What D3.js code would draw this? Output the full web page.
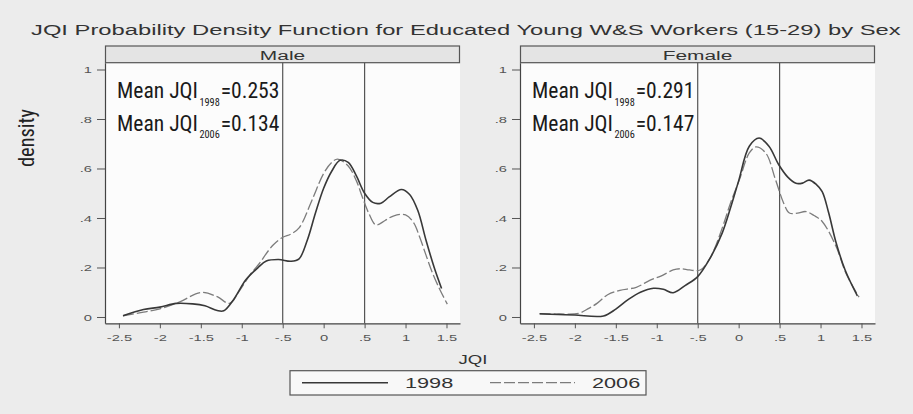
<!DOCTYPE html>
<html>
<head>
<meta charset="utf-8">
<script src="https://cdn.jsdelivr.net/npm/d3@7"></script>
<style>
  body { margin:0; background:#ececec; }
  svg { display:block; }
</style>
</head>
<body>
<div class="dgraph"></div>
<script>
// kernel density of JQI
var panels = ["Male", "Female"];
var years = ["1998", "2006"];

var male1998x = [-2.45,-2.2,-2.0,-1.8,-1.6,-1.45,-1.3,-1.22,-1.1,-0.95,-0.8,-0.7,-0.55,-0.4,-0.3,-0.2,-0.1,0.0,0.1,0.2,0.3,0.4,0.5,0.6,0.7,0.8,0.95,1.05,1.15,1.25,1.35,1.44];
var male1998y = [0.005,0.03,0.04,0.055,0.053,0.045,0.026,0.025,0.07,0.15,0.2,0.226,0.232,0.225,0.235,0.31,0.42,0.52,0.59,0.633,0.625,0.57,0.5,0.463,0.46,0.485,0.515,0.495,0.43,0.31,0.2,0.115];

var male2006x = [-2.45,-2.2,-2.0,-1.75,-1.5,-1.3,-1.15,-1.02,-0.9,-0.8,-0.62,-0.5,-0.4,-0.3,-0.14,0.0,0.1,0.17,0.3,0.4,0.47,0.55,0.64,0.75,0.85,1.0,1.1,1.17,1.25,1.33,1.42,1.51];
var male2006y = [0.005,0.02,0.033,0.062,0.099,0.082,0.055,0.11,0.17,0.21,0.29,0.322,0.335,0.36,0.474,0.58,0.625,0.638,0.61,0.55,0.487,0.42,0.372,0.39,0.408,0.413,0.38,0.325,0.25,0.177,0.11,0.052];

var female1998x = [-2.43,-2.2,-2.0,-1.65,-1.5,-1.35,-1.2,-1.04,-0.92,-0.8,-0.65,-0.5,-0.35,-0.2,-0.1,0.0,0.13,0.25,0.37,0.49,0.6,0.7,0.78,0.86,0.95,1.02,1.1,1.19,1.3,1.45];
var female1998y = [0.013,0.01,0.008,0.004,0.032,0.07,0.1,0.116,0.112,0.098,0.128,0.163,0.237,0.34,0.44,0.55,0.69,0.723,0.69,0.615,0.565,0.54,0.541,0.553,0.535,0.507,0.42,0.3,0.19,0.085];

var female2006x = [-2.43,-2.2,-1.95,-1.83,-1.73,-1.6,-1.45,-1.25,-1.08,-0.95,-0.8,-0.7,-0.6,-0.47,-0.35,-0.2,-0.1,0.01,0.13,0.21,0.33,0.45,0.55,0.62,0.72,0.82,0.92,1.02,1.19,1.31,1.47];
var female2006y = [0.013,0.012,0.015,0.035,0.055,0.09,0.108,0.12,0.149,0.165,0.19,0.195,0.19,0.19,0.237,0.36,0.46,0.555,0.663,0.687,0.663,0.555,0.46,0.42,0.42,0.426,0.41,0.386,0.285,0.177,0.08];

// mean JQI text per panel
var mean1998 = ["0.253", "0.291"];
var mean2006 = ["0.134", "0.147"];

// reference lines
var refLines = [-0.5, 0.5];

var xTicks = [-2.5,-2,-1.5,-1,-0.5,0,0.5,1,1.5];
var xTickLabels = ["-2.5","-2","-1.5","-1","-.5","0",".5","1","1.5"];
var yTicks = [0,0.2,0.4,0.6,0.8,1];
var yTickLabels = ["0",".2",".4",".6",".8","1"];

var titleText = "JQI Probability Density Function for Educated Young W&S Workers (15-29) by Sex";

var series = [
  [ {x:male1998x, y:male1998y}, {x:male2006x, y:male2006y} ],
  [ {x:female1998x, y:female1998y}, {x:female2006x, y:female2006y} ]
];

var width = 913, height = 414;
var stretch = 1.55; // stata text looks stretched sideways
var statFont = "'Liberation Sans', Arial, sans-serif";
var noteFont = "'Liberation Sans Narrow', 'Roboto Condensed', Roboto, sans-serif";

var svg = d3.select("body .dgraph").append("svg")
  .attr("width", width).attr("height", height);

svg.append("rect").attr("width", width).attr("height", height).attr("fill", "#ececec");

// title
svg.append("text")
  .attr("transform", "translate(31,35) scale(1.585,1)")
  .attr("font-family", statFont).attr("font-size", 15).attr("fill", "#333")
  .text(titleText);

// y label
svg.append("text")
  .attr("transform", "translate(34,138) rotate(-90)")
  .attr("text-anchor", "middle")
  .attr("font-family", noteFont).attr("font-size", 22).attr("fill", "#222")
  .attr("textLength", 58).attr("lengthAdjust", "spacingAndGlyphs")
  .text("density");

var panelX = [105, 520];
var panelW = 355;
var plotTop = 62.7, plotBottom = 323.3; // careful: "top" is taken by window

var y = d3.scaleLinear().domain([-0.0255, 1.0275]).range([plotBottom, plotTop]);

var line = function(xs){
  return d3.line()
    .x(function(d){ return xs(d[0]); })
    .y(function(d){ return y(d[1]); })
    .curve(d3.curveCatmullRom.alpha(0.5));
};

panels.forEach(function(name, p){
  var x0 = panelX[p];
  var x = d3.scaleLinear().domain([-2.67, 1.665]).range([x0, x0 + panelW]);
  var g = svg.append("g");

  // plot region
  g.append("rect").attr("x", x0).attr("y", plotTop).attr("width", panelW).attr("height", plotBottom - plotTop)
    .attr("fill", "#fcfcfc");

  // header strip
  g.append("rect").attr("x", x0 + 0.5).attr("y", 46).attr("width", panelW - 1).attr("height", plotTop - 46)
    .attr("fill", "#e4e4e4").attr("stroke", "#555").attr("stroke-width", 1.2);
  g.append("text")
    .attr("transform", "translate(" + (x0 + panelW / 2) + ",60) scale(" + stretch + ",1)")
    .attr("text-anchor", "middle")
    .attr("font-family", statFont).attr("font-size", 13.5).attr("fill", "#333")
    .text(name);

  // axes
  var xAxis = d3.axisBottom(x).tickValues(xTicks)
    .tickFormat(function(d, i){ return xTickLabels[i]; })
    .tickSize(5).tickPadding(6).tickSizeOuter(0);
  var yAxis = d3.axisLeft(y).tickValues(yTicks)
    .tickFormat(function(d, i){ return yTickLabels[i]; })
    .tickSize(8).tickPadding(5).tickSizeOuter(0);

  var gx = g.append("g").attr("transform", "translate(0," + plotBottom + ")").call(xAxis);
  var gy = g.append("g").attr("transform", "translate(" + x0 + ",0)").call(yAxis);

  [gx, gy].forEach(function(a){
    a.select(".domain").attr("stroke", "#444").attr("stroke-width", 1.2);
    a.selectAll(".tick line").attr("stroke", "#555");
    a.selectAll(".tick text").attr("fill", "#555")
      .attr("font-family", statFont).attr("font-size", 9.5);
  });
  gx.selectAll(".tick text").attr("transform", "scale(" + stretch + ",1)");
  gy.selectAll(".tick text").attr("x", -13 / stretch).attr("transform", "scale(" + stretch + ",1)");

  // vertical lines at -.5 and .5
  g.selectAll(".ref").data(refLines).enter().append("line")
    .attr("x1", function(d){ return x(d); }).attr("x2", function(d){ return x(d); })
    .attr("y1", plotTop).attr("y2", plotBottom)
    .attr("stroke", "#555").attr("stroke-width", 1.2);

  // density curves, 2006 first so 1998 sits on top
  var s = series[p];
  var pts2006 = s[1].x.map(function(v, i){ return [v, s[1].y[i]]; });
  var pts1998 = s[0].x.map(function(v, i){ return [v, s[0].y[i]]; });
  g.append("path").attr("d", line(x)(pts2006))
    .attr("fill", "none").attr("stroke", "#7c7c7c").attr("stroke-width", 1.3)
    .attr("stroke-dasharray", "11,3");
  g.append("path").attr("d", line(x)(pts1998))
    .attr("fill", "none").attr("stroke", "#383838").attr("stroke-width", 1.6);

  // mean annotations, one text each with the year as subscript
  var tx = x0 + 12;
  [[mean1998[p], "1998", 98.3], [mean2006[p], "2006", 130.7]].forEach(function(r){
    var t = g.append("text")
      .attr("font-family", noteFont).attr("font-size", 22).attr("fill", "#1a1a1a");
    t.append("tspan").text("Mean JQI");
    t.append("tspan").attr("dx", 1.5).attr("dy", 7.5).attr("font-size", 10.5).text(r[1]);
    t.append("tspan").attr("dx", 1).attr("dy", -7.5).text("=" + r[0]);
    var len = t.node().getComputedTextLength();
    t.attr("transform", "translate(" + tx + "," + r[2] + ") scale(" + (160 / len) + ",1)");
  });
});

// x axis title
svg.append("text")
  .attr("transform", "translate(473,364) scale(" + stretch + ",1)")
  .attr("text-anchor", "middle")
  .attr("font-family", statFont).attr("font-size", 12).attr("fill", "#333")
  .text("JQI");

// legend
var leg = svg.append("g");
leg.append("rect").attr("x", 290).attr("y", 370.7).attr("width", 356).attr("height", 24.3)
  .attr("fill", "#f8f8f8").attr("stroke", "#555").attr("stroke-width", 1.2);
var legX = [[302, 388, 405], [490, 575, 592]];
years.forEach(function(yr, i){
  leg.append("line").attr("x1", legX[i][0]).attr("x2", legX[i][1]).attr("y1", 382.7).attr("y2", 382.7)
    .attr("stroke", i == 0 ? "#383838" : "#7c7c7c")
    .attr("stroke-width", i == 0 ? 1.4 : 1.2)
    .attr("stroke-dasharray", i == 0 ? null : "11,3");
  leg.append("text")
    .attr("transform", "translate(" + legX[i][2] + ",388) scale(" + stretch + ",1)")
    .attr("font-family", statFont).attr("font-size", 14).attr("fill", "#333")
    .text(yr);
});
</script>
</body>
</html>
